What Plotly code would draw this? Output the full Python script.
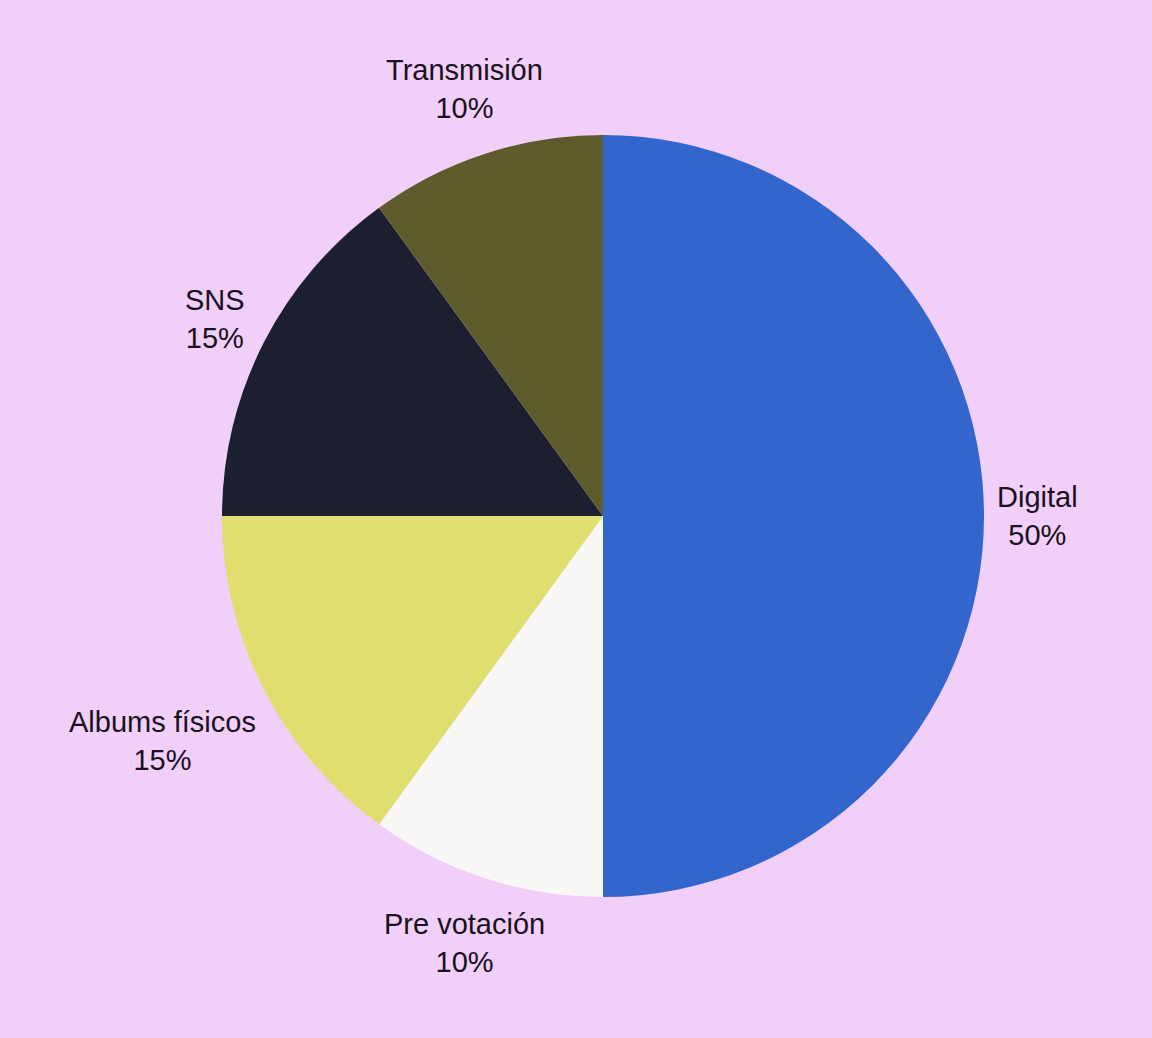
import math
import plotly.graph_objects as go

labels = ["Digital", "Pre votación", "Albums físicos", "SNS", "Transmisión"]
values = [50, 10, 15, 15, 10]
colors = ["#3366CC", "#FAF8F6", "#E0DE6E", "#1C1F30", "#5D5A2C"]

W, H = 1152, 1038
ml, mr, mt, mb = 222, 168, 135, 141
font_size = 29
bg = "#F0CFF8"
text_color = "#1A1020"


def text_width(s):
    # rough Arial / Liberation Sans advance widths, in em
    w = 0
    for ch in s:
        if ch in "ilíj":
            w += 0.222
        elif ch in "tfr ":
            w += 0.29
        elif ch == "%":
            w += 0.889
        elif ch == "m":
            w += 0.833
        elif ch.isupper():
            w += 0.68
        else:
            w += 0.556
    return w * font_size


fig = go.Figure(go.Pie(
    labels=labels, values=values, sort=False, direction="clockwise", rotation=0,
    marker=dict(colors=colors, line=dict(width=0)),
    textinfo="none", showlegend=False,
))

# outside labels placed at each slice's mid-angle, just beyond the rim
pw, ph = W - ml - mr, H - mt - mb
R = min(pw, ph) / 2
gap = 14
total = sum(values)
cum = 0
for lab, v in zip(labels, values):
    mid = (cum + v / 2) / total * 2 * math.pi
    cum += v
    dx, dy = math.sin(mid), -math.cos(mid)  # screen coords, y down
    pct = f"{round(v / total * 100)}%"
    hw = max(text_width(lab), text_width(pct)) / 2
    hh = 30
    off = R + gap + abs(dx) * hw + abs(dy) * hh
    fig.add_annotation(
        x=0.5 + off * dx / pw, y=0.5 - off * dy / ph, xref="paper", yref="paper",
        text=f"{lab}<br>{pct}", showarrow=False, xanchor="center", yanchor="middle",
        font=dict(family="Liberation Sans, Arial", size=font_size, color=text_color),
    )

fig.update_layout(
    width=W, height=H,
    paper_bgcolor=bg, plot_bgcolor=bg,
    margin=dict(l=ml, r=mr, t=mt, b=mb),
)

fig.write_html("out.html", config={"displayModeBar": False},
               post_script=f"document.body.style.margin='0';document.body.style.background='{bg}';")
